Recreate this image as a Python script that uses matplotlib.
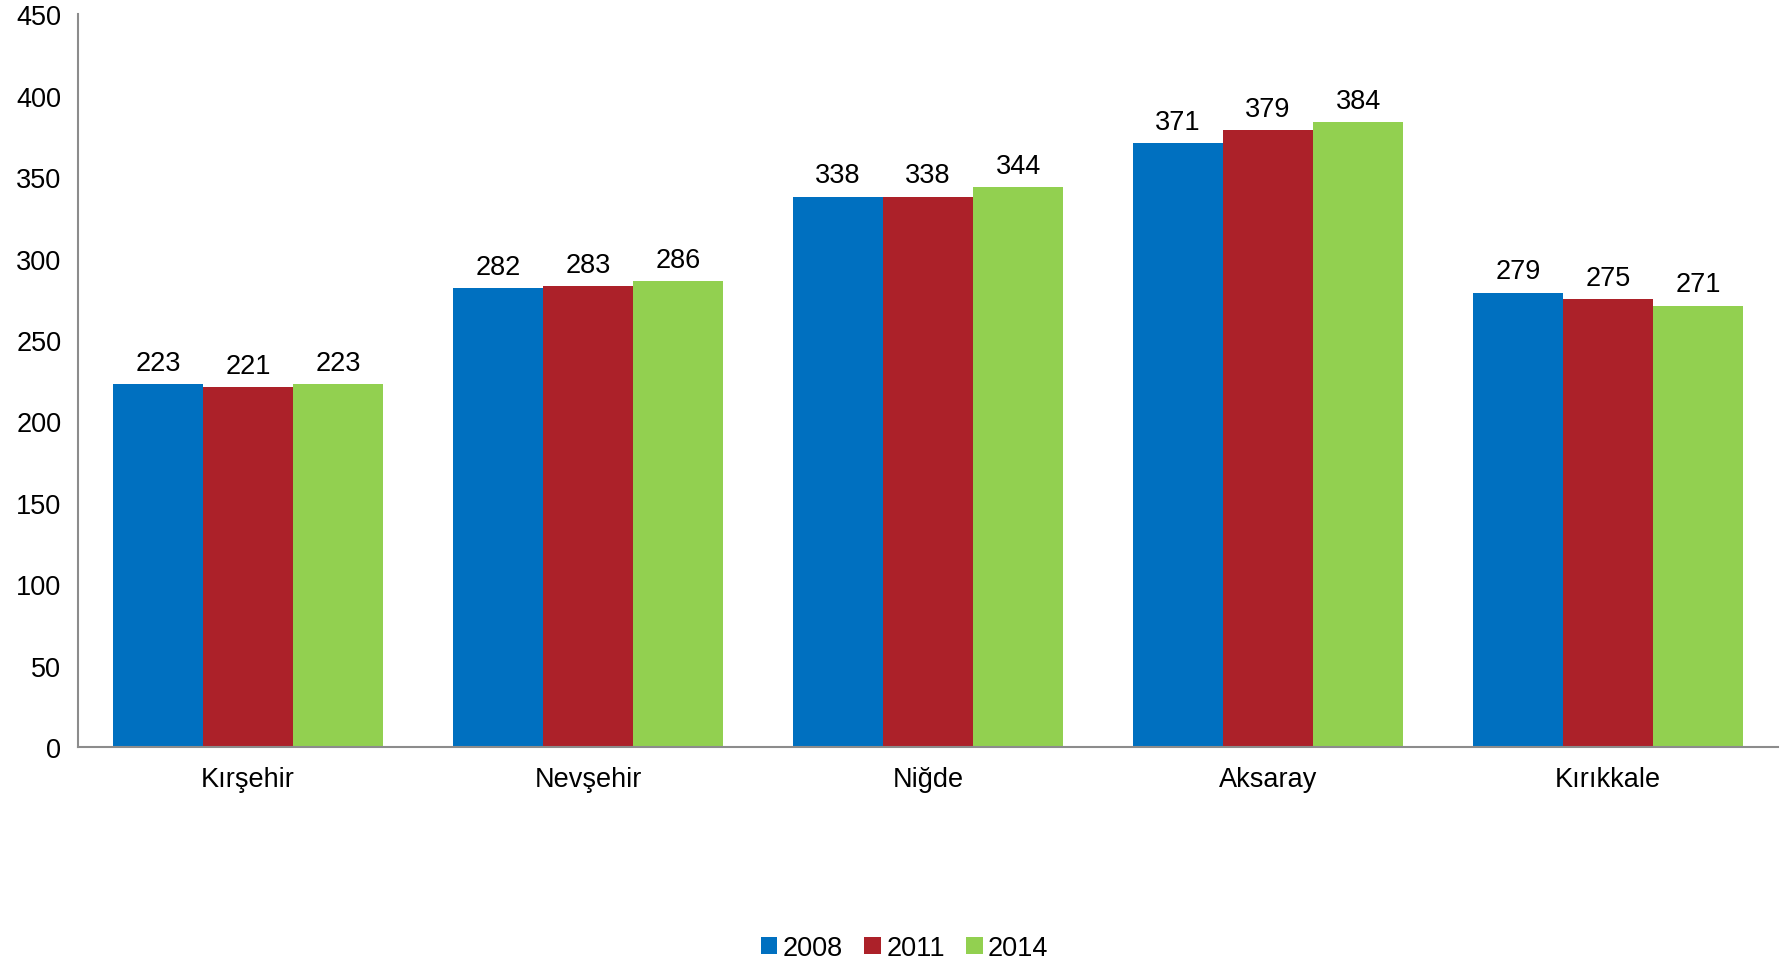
import numpy as np
import matplotlib.pyplot as plt

plt.rcParams['font.family'] = ['Liberation Sans', 'DejaVu Sans']

cities = ["Kırşehir", "Nevşehir", "Niğde", "Aksaray", "Kırıkkale"]
years = ["2008", "2011", "2014"]
v2008 = [223, 282, 338, 371, 279]
v2011 = [221, 283, 338, 379, 275]
v2014 = [223, 286, 344, 384, 271]
colors = ["#0070C0", "#AC2129", "#92D050"]

fig = plt.figure(figsize=(17.81, 9.62), dpi=100)
ax = fig.add_axes([0.0438, 0.2225, 0.9545, 0.7615])

x = np.arange(len(cities))
w = 0.265
for i, (vals, yr) in enumerate(zip([v2008, v2011, v2014], years)):
    bars = ax.bar(x + (i - 1) * w, vals, w, color=colors[i], label=yr)
    for b, v in zip(bars, vals):
        ax.annotate(str(v), (b.get_x() + b.get_width() / 2, v),
                    xytext=(0, 6), textcoords="offset points",
                    ha="center", va="bottom", fontsize=19.5)

ax.set_xlim(-0.5, len(cities) - 0.5)
ax.set_ylim(0, 450)
ax.set_yticks(range(0, 451, 50))
ax.set_xticks(x)
ax.set_xticklabels(cities)
ax.tick_params(axis="both", length=0, labelsize=19.5)
ax.tick_params(axis="x", pad=14)
ax.tick_params(axis="y", pad=12)
for s in ["top", "right"]:
    ax.spines[s].set_visible(False)
for s in ["left", "bottom"]:
    ax.spines[s].set_color("#8c8c8c")
    ax.spines[s].set_linewidth(1.5)

fig.legend(loc="lower center", bbox_to_anchor=(0.508, -0.025), ncol=3, frameon=False,
           fontsize=19.5, handlelength=0.6, handleheight=0.6, handletextpad=0.2,
           columnspacing=0.8)

fig.savefig("out.png")
